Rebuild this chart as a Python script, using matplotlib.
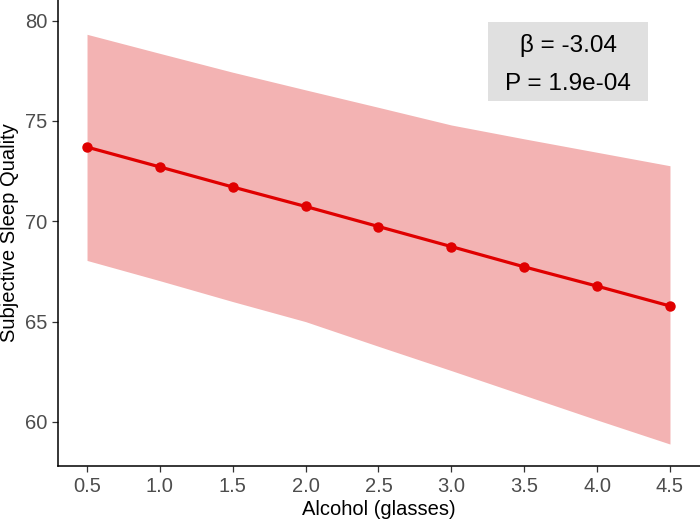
import matplotlib
matplotlib.use("Agg")
import matplotlib.pyplot as plt
from matplotlib.patches import Rectangle

plt.rcParams['font.family'] = ['Liberation Sans', 'DejaVu Sans']

alcohol = [0.5, 1.0, 1.5, 2.0, 2.5, 3.0, 3.5, 4.0, 4.5]
quality = [73.70, 72.71, 71.71, 70.74, 69.74, 68.74, 67.73, 66.77, 65.78]
ci_upper = [79.32, 78.37, 77.43, 76.55, 75.68, 74.80, 74.11, 73.44, 72.77]
ci_lower = [68.05, 67.04, 66.00, 65.00, 63.77, 62.56, 61.33, 60.10, 58.90]
xticks = [0.5, 1.0, 1.5, 2.0, 2.5, 3.0, 3.5, 4.0, 4.5]
xtick_labels = ['0.5', '1.0', '1.5', '2.0', '2.5', '3.0', '3.5', '4.0', '4.5']
yticks = [60, 65, 70, 75, 80]
beta_text = "β = -3.04"
p_text = "P = 1.9e-04"

fig = plt.figure(figsize=(7, 5.2), dpi=100)
ax = fig.add_axes([0.0833, 0.1044, 0.9167, 0.8956])

ax.fill_between(alcohol, ci_lower, ci_upper, color='#f3b3b3', linewidth=0)
ax.plot(alcohol, quality, color='#e00000', linewidth=2.3, marker='o', markersize=6.5)

ax.set_xlim(0.303, 4.706)
ax.set_ylim(57.82, 81.03)
ax.set_xticks(xticks)
ax.set_xticklabels(xtick_labels)
ax.set_yticks(yticks)

for s in ['top', 'right']:
    ax.spines[s].set_visible(False)
for s in ['left', 'bottom']:
    ax.spines[s].set_linewidth(1.1)
    ax.spines[s].set_color('black')

ax.tick_params(axis='both', labelsize=14.5, colors='#333333', length=4.5, width=0.9,
               labelcolor='#4d4d4d', pad=3.5)
ax.set_xlabel('Alcohol (glasses)', fontsize=14.5, color='black', labelpad=3)
ax.set_ylabel('Subjective Sleep Quality', fontsize=14.5, color='black', labelpad=4)

ax.add_patch(Rectangle((0.670, 0.7831), 0.9194 - 0.670, 0.9534 - 0.7831,
                       transform=ax.transAxes, facecolor='#e0e0e0', edgecolor='none',
                       zorder=5))
ax.text(0.7945, 0.889, beta_text, transform=ax.transAxes, ha='center', va='baseline',
        fontsize=17.5, color='black', zorder=6)
ax.text(0.7945, 0.8067, p_text, transform=ax.transAxes, ha='center', va='baseline',
        fontsize=17.5, color='black', zorder=6)

fig.savefig('out.png', dpi=100)
